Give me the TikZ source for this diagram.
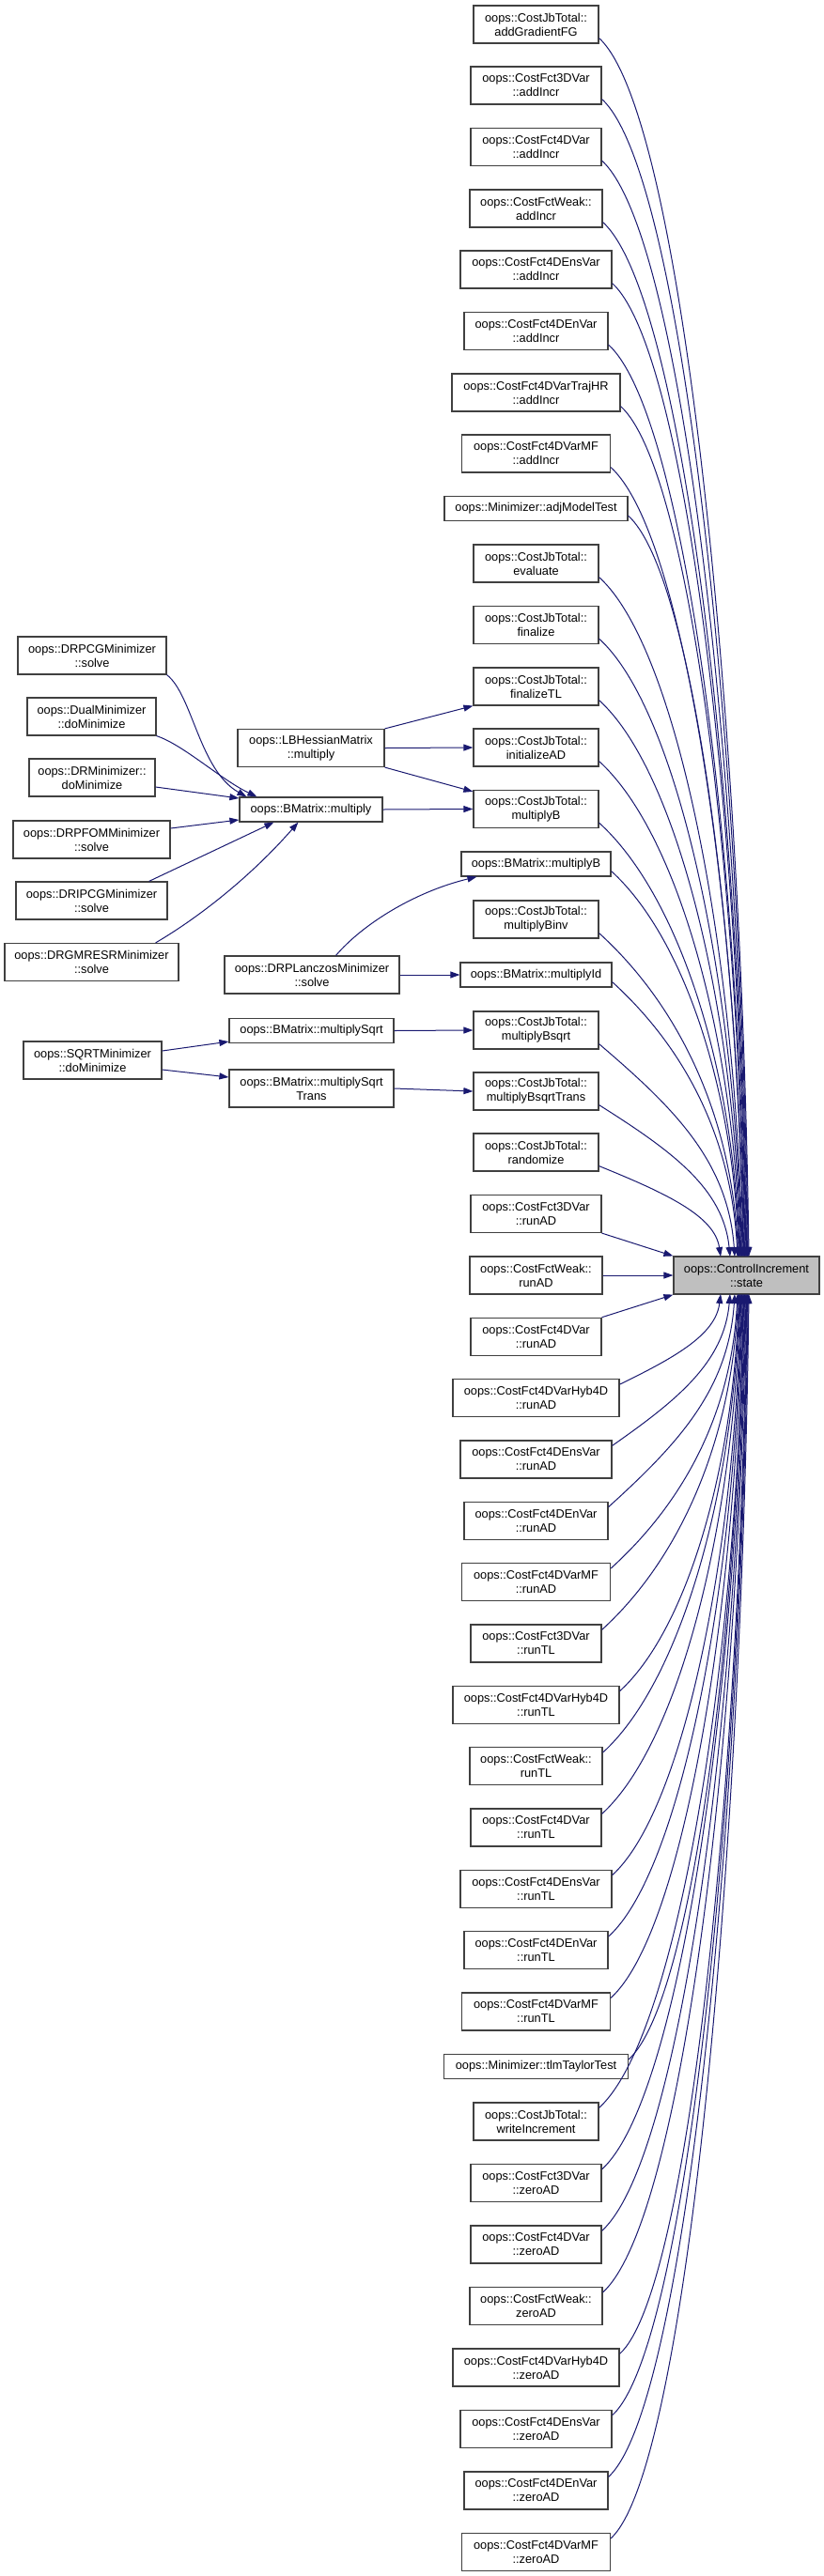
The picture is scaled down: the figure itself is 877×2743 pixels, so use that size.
\documentclass[tikz,border=0pt]{standalone}
\usepackage{fontspec}
\setmainfont{Liberation Sans}
\usetikzlibrary{arrows.meta,calc}
\definecolor{edgeblue}{RGB}{25,25,112}
\definecolor{boxline}{RGB}{64,64,64}
\definecolor{targetfill}{RGB}{191,191,191}
\tikzset{
  box/.style={draw=boxline, line width=1.2pt, fill=white, inner sep=0pt, align=center,
    font=\fontsize{12.8}{15}\selectfont, minimum height=40pt},
  onebox/.style={box, minimum height=26pt},
  edge/.style={draw=edgeblue, line width=1pt, -{Triangle[length=10pt,width=7pt]}},
}
\newcommand\upedge[2]{\draw[edge] let \p1=($(#1.south east)+(0,6)$), \p2=(#2,-1338), \n1={\x2-\x1}, \n2={\y1-\y2}, \n3={min(0.5*\n1,0.3*\n2)} in (\p1) .. controls +(0.55*\n1,-\n3) and +(-0.05*\n1,0.45*\n2) .. (\p2);}
\newcommand\downedge[2]{\draw[edge] let \p1=($(#1.north east)+(0,-6)$), \p2=(#2,-1378), \n1={\x2-\x1}, \n2={\y2-\y1}, \n3={min(0.5*\n1,0.3*\n2)} in (\p1) .. controls +(0.55*\n1,\n3) and +(-0.05*\n1,-0.45*\n2) .. (\p2);}
\begin{document}
\begin{tikzpicture}[x=1pt,y=1pt]
\useasboundingbox (0,0) rectangle (877,-2743);
% target
\node[box, fill=targetfill, minimum width=155pt] (t) at (794.5,-1358) {oops::ControlIncrement\\::state};
% right column
\node[box, minimum width=133pt] (n1) at (570.5,-26) {oops::CostJbTotal::\\addGradientFG};
\node[box, minimum width=139pt] (n2) at (570.5,-91) {oops::CostFct3DVar\\::addIncr};
\node[box, minimum width=139pt] (n3) at (570.5,-156.5) {oops::CostFct4DVar\\::addIncr};
\node[box, minimum width=141pt] (n4) at (570.5,-222) {oops::CostFctWeak::\\addIncr};
\node[box, minimum width=161pt] (n5) at (570.5,-287) {oops::CostFct4DEnsVar\\::addIncr};
\node[box, minimum width=153pt] (n6) at (570.5,-352.5) {oops::CostFct4DEnVar\\::addIncr};
\node[box, minimum width=179pt] (n7) at (570.5,-418) {oops::CostFct4DVarTrajHR\\::addIncr};
\node[box, minimum width=158pt] (n8) at (570.5,-483) {oops::CostFct4DVarMF\\::addIncr};
\node[onebox, minimum width=195pt] (n9) at (570.5,-541.5) {oops::Minimizer::adjModelTest};
\node[box, minimum width=133pt] (n10) at (570.5,-600) {oops::CostJbTotal::\\evaluate};
\node[box, minimum width=133pt] (n11) at (570.5,-665.5) {oops::CostJbTotal::\\finalize};
\node[box, minimum width=133pt] (n12) at (570.5,-731) {oops::CostJbTotal::\\finalizeTL};
\node[box, minimum width=133pt] (n13) at (570.5,-796) {oops::CostJbTotal::\\initializeAD};
\node[box, minimum width=133pt] (n14) at (570.5,-861.5) {oops::CostJbTotal::\\multiplyB};
\node[onebox, minimum width=159pt] (n15) at (570.5,-920) {oops::BMatrix::multiplyB};
\node[box, minimum width=133pt] (n16) at (570.5,-979) {oops::CostJbTotal::\\multiplyBinv};
\node[onebox, minimum width=161pt] (n17) at (570.5,-1038) {oops::BMatrix::multiplyId};
\node[box, minimum width=133pt] (n18) at (570.5,-1097) {oops::CostJbTotal::\\multiplyBsqrt};
\node[box, minimum width=133pt] (n19) at (570.5,-1162) {oops::CostJbTotal::\\multiplyBsqrtTrans};
\node[box, minimum width=133pt] (n20) at (570.5,-1227) {oops::CostJbTotal::\\randomize};
\node[box, minimum width=139pt] (n21) at (570.5,-1292.5) {oops::CostFct3DVar\\::runAD};
\node[box, minimum width=141pt] (n22) at (570.5,-1358) {oops::CostFctWeak::\\runAD};
\node[box, minimum width=139pt] (n23) at (570.5,-1423.3) {oops::CostFct4DVar\\::runAD};
\node[box, minimum width=177pt] (n24) at (570.5,-1488.7) {oops::CostFct4DVarHyb4D\\::runAD};
\node[box, minimum width=161pt] (n25) at (570.5,-1554) {oops::CostFct4DEnsVar\\::runAD};
\node[box, minimum width=153pt] (n26) at (570.5,-1619.3) {oops::CostFct4DEnVar\\::runAD};
\node[box, minimum width=158pt] (n27) at (570.5,-1684.7) {oops::CostFct4DVarMF\\::runAD};
\node[box, minimum width=139pt] (n28) at (570.5,-1750) {oops::CostFct3DVar\\::runTL};
\node[box, minimum width=177pt] (n29) at (570.5,-1815.3) {oops::CostFct4DVarHyb4D\\::runTL};
\node[box, minimum width=141pt] (n30) at (570.5,-1880.7) {oops::CostFctWeak::\\runTL};
\node[box, minimum width=139pt] (n31) at (570.5,-1946) {oops::CostFct4DVar\\::runTL};
\node[box, minimum width=161pt] (n32) at (570.5,-2011.3) {oops::CostFct4DEnsVar\\::runTL};
\node[box, minimum width=153pt] (n33) at (570.5,-2076.7) {oops::CostFct4DEnVar\\::runTL};
\node[box, minimum width=158pt] (n34) at (570.5,-2142) {oops::CostFct4DVarMF\\::runTL};
\node[onebox, minimum width=196pt] (n35) at (570.5,-2200.5) {oops::Minimizer::tlmTaylorTest};
\node[box, minimum width=133pt] (n36) at (570.5,-2259) {oops::CostJbTotal::\\writeIncrement};
\node[box, minimum width=139pt] (n37) at (570.5,-2324.5) {oops::CostFct3DVar\\::zeroAD};
\node[box, minimum width=139pt] (n38) at (570.5,-2390) {oops::CostFct4DVar\\::zeroAD};
\node[box, minimum width=141pt] (n39) at (570.5,-2455.5) {oops::CostFctWeak::\\zeroAD};
\node[box, minimum width=177pt] (n40) at (570.5,-2521) {oops::CostFct4DVarHyb4D\\::zeroAD};
\node[box, minimum width=161pt] (n41) at (570.5,-2586.5) {oops::CostFct4DEnsVar\\::zeroAD};
\node[box, minimum width=153pt] (n42) at (570.5,-2652) {oops::CostFct4DEnVar\\::zeroAD};
\node[box, minimum width=158pt] (n43) at (570.5,-2717.5) {oops::CostFct4DVarMF\\::zeroAD};
% middle column
\node[box, minimum width=156pt] (lb) at (331,-796.5) {oops::LBHessianMatrix\\::multiply};
\node[onebox, minimum width=152pt] (bmul) at (331,-862) {oops::BMatrix::multiply};
\node[box, minimum width=186pt] (lanc) at (332,-1038) {oops::DRPLanczosMinimizer\\::solve};
\node[onebox, minimum width=175pt] (msq) at (331.5,-1097.5) {oops::BMatrix::multiplySqrt};
\node[box, minimum width=175pt] (msqt) at (331.5,-1159) {oops::BMatrix::multiplySqrt\\Trans};
% left column
\node[box, minimum width=158pt] (drpcg) at (98,-698) {oops::DRPCGMinimizer\\::solve};
\node[box, minimum width=137pt] (dual) at (97.5,-763) {oops::DualMinimizer\\::doMinimize};
\node[box, minimum width=134pt] (dr) at (98,-828) {oops::DRMinimizer::\\doMinimize};
\node[box, minimum width=167pt] (pfom) at (97.5,-894) {oops::DRPFOMMinimizer\\::solve};
\node[box, minimum width=161pt] (dripcg) at (97.5,-959) {oops::DRIPCGMinimizer\\::solve};
\node[box, minimum width=185pt] (gmres) at (97.5,-1024.5) {oops::DRGMRESRMinimizer\\::solve};
\node[box, minimum width=147pt] (sqrtm) at (98.5,-1129) {oops::SQRTMinimizer\\::doMinimize};
% left edges
\draw[edge] (drpcg.south east) .. controls (205,-740) and (212,-820) .. ($(bmul.north west)+(8,0)$);
\draw[edge] (dual.south east) .. controls (195,-793) and (235,-830) .. ($(bmul.north west)+(19,0)$);
\draw[edge] ($(dr.east)+(0,-10)$) -- ($(bmul.west)+(0,12)$);
\draw[edge] ($(pfom.east)+(0,12)$) -- ($(bmul.west)+(0,-11)$);
\draw[edge] ($(dripcg.north east)+(-20,0)$) -- ($(bmul.south west)+(37,0)$);
\draw[edge] ($(gmres.north east)+(-25,0)$) .. controls (215,-975) and (270,-930) .. ($(bmul.south west)+(63,0)$);
% middle edges
\draw[edge] (lb.north east) -- (n12.south west);
\draw[edge] (lb.east) -- (n13.west);
\draw[edge] (lb.south east) -- ($(n14.north west)+(0,-2)$);
\draw[edge] (bmul.east) -- (n14.west);
\draw[edge] ($(lanc.north)+(25.5,0)$) .. controls (385,-985) and (440,-950) .. ($(n15.south west)+(17,0)$);
\draw[edge] (lanc.east) -- (n17.west);
\draw[edge] ($(sqrtm.east)+(0,10)$) -- ($(msq.south west)+(0,2)$);
\draw[edge] ($(sqrtm.east)+(0,-10)$) -- ($(msqt.west)+(0,12)$);
\draw[edge] (msq.east) -- (n18.west);
\draw[edge] (msqt.east) -- (n19.west);
% edges into target
\foreach \nn/\tx in {n1/797,n2/796.25,n3/795.5,n4/794.75,n5/794,n6/793.25,n7/792.5,n8/791.75,n9/791,n10/790.25,n11/789.5,n12/788.75,n13/788,n14/787.25,n15/786.5,n16/785.75,n17/785,n18/782,n19/777,n20/767}
  {\upedge{\nn}{\tx}}
\draw[edge] (n21.south east) -- (t.north west);
\draw[edge] (n22.east) -- (t.west);
\draw[edge] (n23.north east) -- (t.south west);
\foreach \nn/\tx in {n24/767,n25/777,n26/782,n27/785,n28/785.75,n29/786.5,n30/787.25,n31/788,n32/788.75,n33/789.5,n34/790.25,n35/791,n36/791.75,n37/792.5,n38/793.25,n39/794,n40/794.75,n41/795.5,n42/796.25,n43/797}
  {\downedge{\nn}{\tx}}
\end{tikzpicture}
\end{document}
